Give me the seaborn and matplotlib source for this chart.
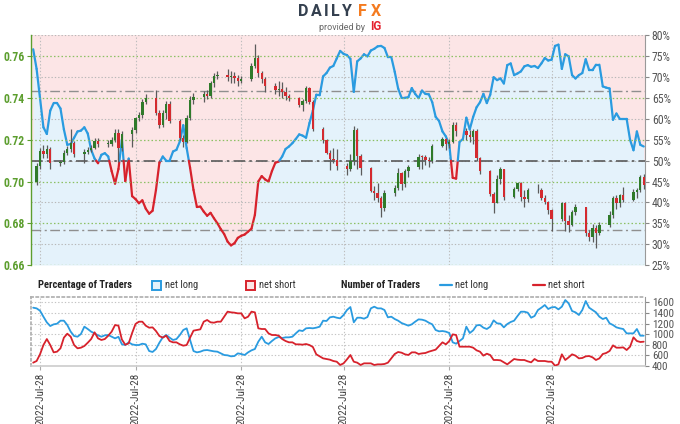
import numpy as np
import pandas as pd
import matplotlib
matplotlib.use("Agg")
import matplotlib.pyplot as plt
import matplotlib.dates as mdates
from matplotlib.collections import LineCollection
from matplotlib.patches import Rectangle
from matplotlib.lines import Line2D
import seaborn as sns

sns.set_theme(style="white")
plt.rcParams['font.family'] = ['Roboto', 'DejaVu Sans']
NARROW = ['Roboto Condensed', 'Fira Sans Condensed', 'Barlow Condensed', 'Roboto', 'DejaVu Sans']

# ---------------- data ----------------
candle_start, candle_end = "2022-01-31", "2022-07-28"
first_open = 0.7000
close = [0.7075, 0.7145, 0.7133, 0.7155, 0.7088,
         0.7092, 0.7135, 0.7155, 0.7187, 0.7133,
         0.7140, 0.7150, 0.7163, 0.7195, 0.7180,
         0.7180, 0.7200, 0.7235, 0.7163, 0.7227,
         0.7245, 0.7303, 0.7320, 0.7380, 0.7400,
         0.7330, 0.7270, 0.7330, 0.7370, 0.7290,
         0.7211, 0.7190, 0.7306, 0.7393, 0.7405,
         0.7420, 0.7410, 0.7470, 0.7505, 0.7513,
         0.7500, 0.7505, 0.7495, 0.7480, 0.7490,
         0.7555, 0.7590, 0.7520, 0.7490, 0.7460,
         0.7440, 0.7445, 0.7430, 0.7410, 0.7400,
         0.7365, 0.7385, 0.7448, 0.7380, 0.7251,
         0.7197, 0.7139, 0.7110, 0.7105, 0.7076,
         0.7060, 0.7100, 0.7247, 0.7123, 0.7065,
         0.6957, 0.6943, 0.6920, 0.6875, 0.6945,
         0.6970, 0.7040, 0.6990, 0.7050, 0.7070,
         0.7120, 0.7118, 0.7105, 0.7098, 0.7172,
         0.7203, 0.7180, 0.7190, 0.7273, 0.7240,
         0.7225, 0.7213, 0.7240, 0.7111, 0.7050,
         0.6942, 0.6897, 0.7010, 0.7058, 0.6925,
         0.6965, 0.6993, 0.6925, 0.6915, 0.6958,
         0.6960, 0.6920, 0.6900, 0.6865, 0.6820,
         0.6895, 0.6810, 0.6792, 0.6855, 0.6878,
         0.6753, 0.6733, 0.6775, 0.6755, 0.6790,
         0.6842, 0.6923, 0.6895, 0.6935, 0.6910,
         0.6950, 0.6960, 0.7020, 0.6985]
high = [0.7090, 0.7160, 0.7175, 0.7175, 0.7165,
        0.7105, 0.7150, 0.7170, 0.7250, 0.7195,
        0.7155, 0.7165, 0.7175, 0.7210, 0.7210,
        0.7200, 0.7215, 0.7250, 0.7250, 0.7240,
        0.7260, 0.7310, 0.7335, 0.7395, 0.7420,
        0.7441, 0.7345, 0.7345, 0.7385, 0.7385,
        0.7300, 0.7225, 0.7320, 0.7410, 0.7425,
        0.7435, 0.7440, 0.7480, 0.7520, 0.7530,
        0.7540, 0.7530, 0.7525, 0.7510, 0.7505,
        0.7570, 0.7661, 0.7605, 0.7530, 0.7500,
        0.7470, 0.7480, 0.7475, 0.7455, 0.7420,
        0.7405, 0.7395, 0.7460, 0.7455, 0.7390,
        0.7260, 0.7205, 0.7150, 0.7160, 0.7155,
        0.7090, 0.7130, 0.7266, 0.7255, 0.7130,
        0.7070, 0.6980, 0.6995, 0.6930, 0.6960,
        0.6985, 0.7065, 0.7045, 0.7060, 0.7080,
        0.7130, 0.7125, 0.7125, 0.7120, 0.7180,
        0.7215, 0.7210, 0.7205, 0.7285, 0.7285,
        0.7255, 0.7245, 0.7250, 0.7250, 0.7120,
        0.7055, 0.6950, 0.7030, 0.7070, 0.7060,
        0.6975, 0.7000, 0.7000, 0.6960, 0.6970,
        0.6990, 0.6970, 0.6935, 0.6905, 0.6870,
        0.6900, 0.6900, 0.6840, 0.6865, 0.6890,
        0.6880, 0.6770, 0.6795, 0.6790, 0.6805,
        0.6860, 0.6930, 0.6935, 0.6940, 0.6975,
        0.6965, 0.6970, 0.7030, 0.7035]
low = [0.6985, 0.7060, 0.7115, 0.7115, 0.7060,
       0.7075, 0.7085, 0.7125, 0.7140, 0.7120,
       0.7090, 0.7130, 0.7140, 0.7155, 0.7165,
       0.7165, 0.7170, 0.7190, 0.7095, 0.7145,
       0.7165, 0.7235, 0.7290, 0.7305, 0.7370,
       0.7320, 0.7255, 0.7260, 0.7300, 0.7280,
       0.7200, 0.7165, 0.7185, 0.7295, 0.7370,
       0.7380, 0.7395, 0.7400, 0.7455, 0.7490,
       0.7480, 0.7470, 0.7470, 0.7460, 0.7470,
       0.7480, 0.7545, 0.7500, 0.7470, 0.7430,
       0.7420, 0.7410, 0.7400, 0.7390, 0.7385,
       0.7355, 0.7340, 0.7375, 0.7370, 0.7240,
       0.7185, 0.7130, 0.7055, 0.7090, 0.7055,
       0.7030, 0.7050, 0.7080, 0.7060, 0.7030,
       0.6950, 0.6910, 0.6900, 0.6829, 0.6860,
       0.6930, 0.6960, 0.6960, 0.6975, 0.7020,
       0.7060, 0.7060, 0.7080, 0.7070, 0.7090,
       0.7165, 0.7150, 0.7160, 0.7185, 0.7220,
       0.7200, 0.7190, 0.7180, 0.7100, 0.7035,
       0.6930, 0.6850, 0.6895, 0.6990, 0.6910,
       0.6920, 0.6955, 0.6905, 0.6880, 0.6900,
       0.6945, 0.6910, 0.6890, 0.6845, 0.6765,
       0.6810, 0.6765, 0.6760, 0.6785, 0.6840,
       0.6740, 0.6715, 0.6710, 0.6681, 0.6745,
       0.6780, 0.6825, 0.6870, 0.6880, 0.6900,
       0.6905, 0.6920, 0.6950, 0.6965]

sent_start = "2022-01-30"
pct_long = [76.7, 72, 65, 58, 56.4, 62, 63.8, 63.8, 62.5, 57.5,
            53.8, 54, 55.5, 57, 57.2, 58, 56.5, 52.6, 50.5, 49.4,
            51.4, 51.8, 51, 47.5, 44.5, 48, 55, 45.1, 50.5, 41.5,
            40.8, 39.8, 40.5, 38.5, 37.3, 38, 43, 49.5, 51, 50,
            50, 52.2, 52.6, 54.6, 58.5, 53, 48.3, 43, 38.9, 39,
            37.8, 36.8, 37.5, 36.2, 35, 33.6, 32.4, 30.6, 29.7, 30.2,
            31.5, 32, 32.3, 33, 33.7, 37, 45, 46.3, 45.5, 45,
            47.5, 49.5, 49.8, 51, 52.8, 53.4, 54.2, 55.2, 56.3, 56,
            55.5, 59, 62, 65.8, 65.7, 70.2, 71, 72.3, 72.7, 74.5,
            76.3, 75.6, 75.3, 74.4, 66.5, 73.8, 74.5, 75.5, 75, 76.4,
            76.8, 77.4, 77.5, 77, 74.8, 74.8, 71.3, 67.3, 65.1, 65.1,
            65.2, 67.4, 66, 65, 66.8, 66, 65.9, 64, 60.5, 59.5,
            57, 55.8, 53.8, 45.9, 45.7, 54.5, 55.2, 60.3, 57.5, 60.5,
            62.8, 64, 66, 63.8, 65.8, 70, 69.3, 69.7, 68.5, 72.9,
            73.3, 70.5, 70.9, 71.4, 72.6, 72.9, 72.5, 72.7, 72.2, 73.3,
            74.6, 74, 74.2, 77.5, 77.8, 72, 75.5, 75, 70.5, 69.7,
            70.5, 71, 74.3, 71.7, 71.7, 73, 73, 67.8, 67.5, 67.3,
            59.8, 61.3, 60, 60, 60, 55, 52.5, 57, 53.8, 53.4]
n_long = [1499, 1486, 1442, 1329, 1222, 1153, 1185, 1197, 1254, 1254,
          1172, 1047, 965, 952, 1003, 1141, 1097, 1047, 1015, 978,
          952, 978, 984, 952, 921, 950, 810, 795, 846, 808,
          795, 795, 820, 808, 682, 664, 720, 839, 940, 984,
          934, 890, 908, 984, 1078, 1110, 890, 682, 657, 670,
          695, 701, 689, 676, 670, 638, 607, 601, 582, 588,
          638, 626, 607, 657, 695, 720, 858, 952, 846, 814,
          871, 921, 946, 927, 940, 940, 952, 1015, 1072, 1059,
          1110, 1116, 1110, 1122, 1141, 1254, 1248, 1317, 1329, 1310,
          1298, 1361, 1455, 1511, 1223, 1310, 1310, 1292, 1323, 1486,
          1518, 1486, 1486, 1455, 1317, 1329, 1285, 1254, 1210, 1185,
          1160, 1185, 1235, 1279, 1273, 1254, 1216, 1185, 1078, 1053,
          1059, 1047, 1021, 846, 820, 871, 921, 1141, 1021, 1072,
          1166, 1172, 1122, 1097, 1141, 1260, 1204, 1197, 1128, 1191,
          1229, 1254, 1342, 1423, 1423, 1405, 1310, 1342, 1455, 1499,
          1549, 1474, 1505, 1511, 1467, 1518, 1643, 1580, 1436, 1411,
          1361, 1455, 1624, 1499, 1455, 1411, 1329, 1285, 1310, 1204,
          1172, 1128, 1110, 1097, 1015, 1015, 1015, 1097, 971, 971]
n_short = [463, 494, 620, 795, 908, 795, 657, 670, 733, 934,
           1009, 952, 795, 733, 745, 777, 839, 908, 1034, 921,
           890, 908, 971, 1047, 1172, 1160, 900, 800, 827, 1021,
           1191, 1235, 1235, 1160, 1122, 1128, 1059, 965, 934, 971,
           871, 846, 846, 808, 783, 795, 934, 1066, 1078, 1091,
           1235, 1267, 1223, 1216, 1235, 1235, 1329, 1424, 1411, 1405,
           1392, 1392, 1298, 1329, 1424, 1411, 1110, 1097, 1097, 1015,
           984, 984, 971, 908, 871, 846, 846, 808, 808, 802,
           814, 795, 758, 620, 582, 544, 532, 519, 494, 481,
           419, 450, 525, 607, 481, 463, 419, 450, 450, 450,
           419, 431, 431, 438, 463, 544, 626, 664, 651, 620,
           607, 657, 657, 626, 638, 645, 670, 689, 708, 777,
           846, 808, 871, 996, 984, 764, 764, 764, 764, 745,
           695, 670, 595, 632, 607, 513, 513, 507, 469, 431,
           481, 532, 519, 513, 513, 488, 469, 532, 494, 494,
           494, 481, 481, 406, 431, 620, 513, 563, 620, 595,
           544, 551, 582, 588, 563, 513, 544, 626, 645, 683,
           789, 745, 745, 751, 701, 764, 940, 871, 852, 858]

price_ticks = [0.66, 0.68, 0.70, 0.72, 0.74, 0.76]
pct_ticks = [25, 30, 35, 40, 45, 50, 55, 60, 65, 70, 75, 80]
count_ticks = [400, 600, 800, 1000, 1200, 1400, 1600]
month_ticks = ["2022-02-01", "2022-03-01", "2022-04-01", "2022-05-01", "2022-06-01", "2022-07-01"]
month_labels = ["2022-Jul-28"] * 6
sentiment_levels = [100 / 3, 50, 200 / 3]
logo_dark = ["D", "A", "I", "L", "Y"]
logo_orange = ["F", "X"]

# ---------------- styling ----------------
BLUE = '#2a9be0'
RED = '#d7222c'
C_UP = '#2f7a2a'
C_DN = '#d42a2f'
PINK = '#fce5e6'
LBLUE = '#e4f2fb'
GREEN_T = '#5c9e2e'
GRAY_T = '#555555'

xlim = (pd.Timestamp("2022-01-29 12:00"), pd.Timestamp("2022-07-28 08:00"))
cdates = pd.bdate_range(candle_start, candle_end)
sdates = pd.date_range(sent_start, periods=len(pct_long), freq="D")
mt = pd.to_datetime(month_ticks)

fig = plt.figure(figsize=(6.8, 4.24), dpi=100)

# ---------- main panel ----------
ax_p = fig.add_axes([0.0463, 0.375, 0.902, 0.5413])
ax_c = ax_p.twinx()

ax_p.set_xlim(xlim)
ax_p.set_ylim(25, 80)
ax_p.axhspan(50, 80, color=PINK, lw=0, zorder=0)
ax_p.axhspan(25, 50, color=LBLUE, lw=0, zorder=0)
ax_p.fill_between(sdates, pct_long, 80, color=PINK, lw=0, zorder=1)
ax_p.fill_between(sdates, 25, pct_long, color=LBLUE, lw=0, zorder=1)

for v in pct_ticks:
    if v % 10 == 0:
        ax_p.axhline(v, color='#b8b8b8', lw=0.8, ls=(0, (1.2, 1.8)), zorder=2)
for d in mt:
    ax_p.axvline(d, color='#bdbdbd', lw=0.8, ls=(0, (1.2, 1.8)), zorder=2)

for lv in sentiment_levels:
    if lv == 50:
        ax_p.axhline(lv, color='#5a5a5a', lw=1.2, ls=(0, (7, 2.5, 1.5, 2.5)), zorder=3)
    else:
        ax_p.axhline(lv, color='#8f8f8f', lw=1.0, ls=(0, (7, 2.5, 1.5, 2.5)), zorder=3)

# sentiment line, blue above 50 %, red below
xs = mdates.date2num(sdates)
ys = np.asarray(pct_long, dtype=float)
segs, cols = [], []
for i in range(len(xs) - 1):
    x0, y0, x1, y1 = xs[i], ys[i], xs[i + 1], ys[i + 1]
    if (y0 - 50) * (y1 - 50) < 0:
        t = (50 - y0) / (y1 - y0)
        xm = x0 + t * (x1 - x0)
        segs.append([(x0, y0), (xm, 50)]); cols.append(BLUE if y0 > 50 else RED)
        segs.append([(xm, 50), (x1, y1)]); cols.append(BLUE if y1 > 50 else RED)
    else:
        segs.append([(x0, y0), (x1, y1)]); cols.append(BLUE if (y0 + y1) / 2 >= 50 else RED)
lc = LineCollection(segs, colors=cols, linewidths=1.6, capstyle='round', joinstyle='round', zorder=4)
ax_p.add_collection(lc)

ax_p.yaxis.tick_right()
ax_p.set_yticks(pct_ticks)
ax_p.set_yticklabels([f"{v}%" for v in pct_ticks], family=NARROW)
ax_p.tick_params(axis='y', right=True, length=3, width=0.8, color='#888888',
                 labelsize=8.5, labelcolor=GRAY_T, pad=2)
ax_p.set_xticks(mt)
ax_p.tick_params(axis='x', bottom=False, labelbottom=False)
for s in ['top', 'bottom', 'left']:
    ax_p.spines[s].set_visible(False)
ax_p.spines['right'].set_color('#999999')
ax_p.spines['right'].set_linewidth(0.8)

# candles
ax_c.set_ylim(0.66, 0.77)
ax_c.set_xlim(xlim)
for v in price_ticks:
    ax_c.axhline(v, color='#8cc063', lw=0.9, ls=(0, (1.2, 1.8)), zorder=1)
opens = [first_open] + close[:-1]
o = np.array(opens); c = np.array(close)
up = c >= o
body_lo = np.minimum(o, c)
body_h = np.maximum(np.abs(c - o), 0.00025)
ax_c.vlines(cdates, low, high, color='#5b5b5b', lw=0.9, zorder=3)
ax_c.bar(cdates, body_h, bottom=body_lo, width=0.7,
         color=np.where(up, C_UP, C_DN), edgecolor='none', zorder=4)
ax_c.yaxis.tick_left()
ax_c.set_yticks(price_ticks)
ax_c.set_yticklabels([f"{v:.2f}" for v in price_ticks], family=NARROW, fontweight='bold')
ax_c.tick_params(axis='y', left=True, right=False, labelleft=True, labelright=False,
                 length=3, width=0.8, color=GREEN_T, labelsize=8.5, labelcolor=GREEN_T, pad=2)
ax_c.tick_params(axis='x', bottom=False, labelbottom=False)
for s in ['top', 'bottom', 'right']:
    ax_c.spines[s].set_visible(False)
ax_c.spines['left'].set_color(GREEN_T)
ax_c.spines['left'].set_linewidth(1.0)
ax_c.grid(False); ax_p.grid(False)

# ---------- bottom panel ----------
ax_n = fig.add_axes([0.0463, 0.1368, 0.902, 0.1627])
ax_n.set_xlim(xlim)
ax_n.set_ylim(400, 1700)
for v in count_ticks[1:]:
    ax_n.axhline(v, color='#c4c4c4', lw=0.8, ls=(0, (1.2, 1.8)), zorder=0)
for d in mt:
    ax_n.axvline(d, color='#c4c4c4', lw=0.8, ls=(0, (1.2, 1.8)), zorder=0)
df_n = pd.DataFrame({"date": sdates, "long": n_long, "short": n_short})
sns.lineplot(data=df_n, x="date", y="long", color=BLUE, lw=1.3, ax=ax_n, zorder=3)
sns.lineplot(data=df_n, x="date", y="short", color=RED, lw=1.3, ax=ax_n, zorder=3)
ax_n.set_xlabel(""); ax_n.set_ylabel("")
ax_n.yaxis.tick_right()
ax_n.set_yticks(count_ticks)
ax_n.set_yticklabels([str(v) for v in count_ticks], family=NARROW)
ax_n.tick_params(axis='y', right=True, left=False, length=3, width=0.8, color='#888888',
                 labelsize=8, labelcolor=GRAY_T, pad=2)
ax_n.set_xticks(mt)
ax_n.set_xticklabels(month_labels, rotation=90, family=NARROW)
ax_n.tick_params(axis='x', bottom=True, length=3, width=0.8, color='#aaaaaa',
                 labelsize=8, labelcolor='#444444', pad=2)
ax_n.spines['top'].set_linestyle((0, (1.2, 1.8)))
ax_n.spines['top'].set_color('#b0b0b0')
ax_n.spines['left'].set_linestyle((0, (1.2, 1.8)))
ax_n.spines['left'].set_color('#b0b0b0')
ax_n.spines['bottom'].set_color('#cccccc')
ax_n.spines['bottom'].set_linewidth(1.2)
ax_n.spines['right'].set_color('#999999')
ax_n.spines['right'].set_linewidth(0.8)
ax_n.grid(False)

# ---------- legend row ----------
W, H = 680.0, 424.0
def fx(px): return px / W
def fy(py): return 1 - py / H
ly = 285
LFS = 7.6
fig.text(fx(38), fy(ly), "Percentage of Traders", fontsize=LFS, fontweight='bold', family=NARROW,
         color='#222222', va='center', ha='left')
fig.add_artist(Rectangle((fx(152), fy(ly + 5)), 9 / W, 9.5 / H, transform=fig.transFigure,
                         facecolor=LBLUE, edgecolor=BLUE, lw=1.4))
fig.text(fx(165), fy(ly), "net long", fontsize=LFS, family=NARROW, color='#333333', va='center', ha='left')
fig.add_artist(Rectangle((fx(246), fy(ly + 5)), 9 / W, 9.5 / H, transform=fig.transFigure,
                         facecolor=PINK, edgecolor=RED, lw=1.4))
fig.text(fx(259), fy(ly), "net short", fontsize=LFS, family=NARROW, color='#333333', va='center', ha='left')
fig.text(fx(341), fy(ly), "Number of Traders", fontsize=LFS, fontweight='bold', family=NARROW,
         color='#222222', va='center', ha='left')
fig.add_artist(Line2D([fx(440), fx(452)], [fy(ly), fy(ly)], transform=fig.transFigure, color=BLUE, lw=1.6))
fig.text(fx(455), fy(ly), "net long", fontsize=LFS, family=NARROW, color='#333333', va='center', ha='left')
fig.add_artist(Line2D([fx(533), fx(545)], [fy(ly), fy(ly)], transform=fig.transFigure, color=RED, lw=1.6))
fig.text(fx(548), fy(ly), "net short", fontsize=LFS, family=NARROW, color='#333333', va='center', ha='left')

# ---------- logo ----------
dark_x = [303.5, 316, 326, 335, 346.5]
orange_x = [362, 375.5]
for ch, px in zip(logo_dark, dark_x):
    fig.text(fx(px), fy(12), ch, fontsize=11.5, fontweight='bold', color='#34404f', va='center', ha='center')
for ch, px in zip(logo_orange, orange_x):
    fig.text(fx(px), fy(12), ch, fontsize=11.5, fontweight='bold', color='#f47b20', va='center', ha='center')
fig.text(fx(365), fy(27), "provided by", fontsize=6.5, color='#666666', va='center', ha='right')
fig.text(fx(370), fy(27), "IG", fontsize=8.5, fontweight='bold', color='#e5202e', va='center', ha='left')

fig.savefig("out.png", dpi=100)
